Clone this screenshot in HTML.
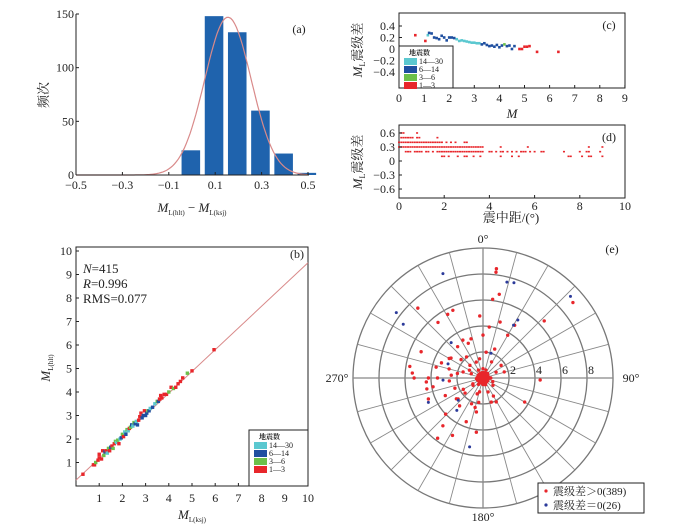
<!DOCTYPE html>
<html><head><meta charset="utf-8"><style>
html,body{margin:0;padding:0;background:#fff;}
svg{display:block;font-family:"Liberation Serif","Noto Serif CJK SC",serif;}
</style></head><body>
<svg id="fig" width="676" height="528" viewBox="0 0 676 528" xmlns="http://www.w3.org/2000/svg">
<g id="pa"></g>
<g id="pc"></g>
<g id="pd"></g>
<g id="pb"></g>
<g id="pe"></g>
</svg>
<script>
// ---- Panel (a) data ----
const histCenters=[-0.005,0.095,0.195,0.295,0.395,0.495];
const histCounts=[23,148,133,60,20,2];
const histXTicks=[-0.5,-0.3,-0.1,0.1,0.3,0.5];
const histYTicks=[0,50,100,150];
const fitParams=[147,0.155,0.1];
// ---- Panel (c) data ----
const cM=[0.65,1.05,1.15,1.2,1.3,1.4,1.5,1.6,1.7,1.8,1.9,2.0,2.1,2.2,2.3,2.4,2.5,2.6,2.7,2.8,2.9,3.0,3.1,3.2,3.3,3.4,3.5,3.6,3.7,3.8,3.9,4.0,4.1,4.2,4.3,4.4,4.5,4.6,4.8,4.9,5.0,5.1,5.2,5.5,6.35];
const cDiff=[0.24,0.14,0.24,0.28,0.27,0.2,0.19,0.17,0.23,0.2,0.15,0.2,0.2,0.19,0.17,0.14,0.15,0.14,0.13,0.12,0.11,0.11,0.1,0.1,0.08,0.1,0.07,0.05,0.06,0.04,0.07,0.03,0.06,0.08,0.05,0.06,0.0,0.05,0.0,0.0,0.04,0.04,0.05,-0.05,-0.05];
const cCat=[0,0,3,2,2,2,2,2,2,2,2,2,2,2,3,3,3,3,3,3,3,3,3,3,2,2,2,2,2,2,2,2,2,1,2,2,2,2,0,0,0,0,0,0,0];
const cXTicks=[0,1,2,3,4,5,6,7,8,9];
const cYTicks=[0.4,0.2,0,-0.2,-0.4];
// ---- Panel (d) data ----
const dLevels=[0.6,0.5,0.4,0.3,0.2,0.1];
const dDist6=[0.1,0.2,0.8];
const dDist5=[0.1,0.2,0.3,0.4,0.5,0.6,0.8,0.9,1.7];
const dDist4=[0.0,0.1,0.2,0.3,0.4,0.5,0.6,0.7,0.8,0.9,1.0,1.1,1.2,1.3,1.4,1.5,1.6,1.7,1.8,1.9,2.1,2.3,2.5,2.9,3.0];
const dDist3=[0.0,0.1,0.2,0.3,0.4,0.5,0.6,0.7,0.8,0.9,1.0,1.1,1.2,1.3,1.4,1.5,1.6,1.7,1.8,1.9,2.0,2.1,2.2,2.3,2.4,2.5,2.6,2.7,2.8,2.9,3.0,3.1,3.2,3.3,3.4,3.5,3.6,3.7,4.5,5.7,8.4,9.0];
const dDist2=[0.3,0.4,0.5,0.7,0.8,0.9,1.0,1.2,1.3,1.5,1.7,1.8,1.9,2.0,2.1,2.2,2.3,2.4,2.5,2.6,2.7,2.8,2.9,3.0,3.1,3.2,3.3,3.4,3.5,3.6,3.7,4.0,4.1,4.3,4.5,4.6,4.8,5.0,5.2,5.4,5.5,5.6,5.8,6.0,6.3,6.4,7.3,8.0,8.3,8.4,8.9];
const dDist1=[1.9,2.0,2.2,2.6,2.9,3.0,3.3,3.6,4.5,5.0,5.3,7.5,7.6,8.1,8.4,8.5,9.0];
const dXTicks=[0,2,4,6,8,10];
const dYTicks=[0.6,0.3,0,-0.3,-0.6];
// ---- Panel (b) data ----
const bX=[0.3,0.75,0.8,0.85,0.95,1.0,1.0,1.1,1.15,1.2,1.25,1.3,1.35,1.4,1.45,1.5,1.55,1.6,1.65,1.7,1.75,1.8,1.85,1.9,1.95,2.0,2.05,2.1,2.15,2.2,2.25,2.3,2.35,2.4,2.45,2.5,2.55,2.6,2.65,2.7,2.75,2.8,2.85,2.9,2.95,3.0,3.05,3.1,3.15,3.2,3.3,3.4,3.5,3.55,3.6,3.65,3.7,3.8,3.9,4.0,4.1,4.2,4.3,4.4,4.5,4.6,4.8,5.0,5.95];
const bY=[0.5,0.9,0.9,1.0,1.1,1.2,1.35,1.15,1.5,1.3,1.45,1.5,1.4,1.6,1.5,1.65,1.7,1.6,1.8,1.9,1.85,1.95,1.8,2.0,2.05,2.2,2.1,2.3,2.2,2.4,2.35,2.45,2.5,2.6,2.55,2.7,2.65,2.75,2.6,2.8,2.95,3.1,2.9,3.0,3.2,3.0,3.1,3.2,3.2,3.3,3.35,3.5,3.6,3.6,3.7,3.85,3.75,3.9,3.9,4.0,4.2,4.15,4.2,4.35,4.45,4.6,4.8,4.9,5.8];
const bCat=[0,0,0,1,0,0,0,0,0,1,2,0,3,1,0,2,0,1,0,1,3,1,0,3,2,1,0,3,2,1,3,0,1,2,3,1,2,3,2,0,0,0,2,2,0,2,2,1,2,3,2,3,1,2,0,0,0,0,0,1,0,1,0,0,0,0,1,0,0];
const bTicks=[1,2,3,4,5,6,7,8,9,10];
const bLine=[0.25,0.925];
const legendLabels=["14—30","6—14","3—6","1—3"];
// ---- Panel (e) data ----
const eRedDist=[8.47,8.2,6.56,6.1,9.03,6.44,4.78,4.5,4.73,3.8,3.95,3.3,7.35,5.7,5.6,5.5,5.17,5.7,5.45,5.3,4.2,4.37,3.7,2.9,3.3,2.9,3.15,3.1,2.0,2.4,1.7,1.7,4.4,3.7,2.1,1.96,2.17,2.66,3.6,4.2,5.0,5.8,4.8,4.0,4.5,4.4,3.9,2.6,2.8,2.45,1.6,1.4,2.06,1.33,1.4,1.1,0.95,1.14,1.1,0.95,0.96,0.72,0.5,0.4,0.24,0.3,0.6,0.5,0.4,0.3,0.2,0.1,0.5,0.6,0.7,0.35,0.45,0.55,0.25,0.65,0.8,0.9,1.2,1.5,1.8,2.3,2.6,3.4,3.0,2.2,1.9,2.7,3.5,3.2,1.3,1.6,2.5,2.0,1.75,2.35];
const eRedAz=[7,7,11,7,50,47,357,17,31,30,7,0,317,336,331,321,293,279,274,270,270,266,283,302,332,337,343,321,7,22,55,74,92,120,151,161,204,191,201,187,208,217,220,226,249,259,260,232,220,275,287,314,322,337,28,66,126,160,194,234,290,0,265,140,30,235,90,180,300,10,200,60,45,215,330,120,250,160,270,20,110,240,300,350,230,250,265,290,300,310,190,285,270,245,200,150,230,280,240,195];
const eBlueDist=[8.6,8.35,7.4,7.6,7.7,9.2,5.2,4.7,3.66,2.9,3.08,4.6,2.56,3.2,5.4,2.0];
const eBlueAz=[339,307,304,14,18,47,31,30,318,292,267,246,228,219,191,18];
const eRingLabels=[2,4,6,8];
const eAngleLabels=["0°","90°","180°","270°"];

const NS="http://www.w3.org/2000/svg";
function mk(parent,tag,attrs){const e=document.createElementNS(NS,tag);for(const k in attrs)e.setAttribute(k,attrs[k]);parent.appendChild(e);return e;}
function txt(parent,x,y,s,size,anchor,extra){const t=mk(parent,'text',Object.assign({x:x,y:y,'font-size':size,'text-anchor':anchor||'middle',fill:'#222'},extra||{}));t.textContent=s;return t;}
const catColor=["#e8262b","#6cc04a","#1f4fa0","#5bc8d0"];

// ===== Panel (a) =====
(function(){
const g=document.getElementById('pa');
const xa=v=>76+(v+0.5)*232, ya=v=>175-v*1.0733;
histCounts.forEach((c,i)=>{const w=0.08*232;
 const r=mk(g,'rect',{x:xa(histCenters[i])-w/2,y:ya(c),width:w,height:ya(0)-ya(c),fill:'#1f63ad'});
 
 });
let d='';for(let k=0;k<=120;k++){const v=-0.5+k/120;const y=fitParams[0]*Math.exp(-Math.pow(v-fitParams[1],2)/(2*fitParams[2]*fitParams[2]));d+=(k?'L':'M')+xa(v).toFixed(1)+','+ya(y).toFixed(1);}
const p=mk(g,'path',{d:d,fill:'none',stroke:'#d98a8a','stroke-width':1.2});


mk(g,'line',{x1:76,y1:14,x2:76,y2:175,stroke:'#222','stroke-width':1});
mk(g,'line',{x1:76,y1:175,x2:309,y2:175,stroke:'#222','stroke-width':1});
histXTicks.forEach(v=>{mk(g,'line',{x1:xa(v),y1:175,x2:xa(v),y2:172,stroke:'#222'});const t=txt(g,xa(v),189,(v<0?'−':'')+Math.abs(v).toFixed(1),12);});
histYTicks.forEach(v=>{mk(g,'line',{x1:76,y1:ya(v),x2:79,y2:ya(v),stroke:'#222'});const t=txt(g,74,ya(v)+4,String(v),12,'end');});
const yl=txt(g,48,95,'频次',13,'middle',{transform:'rotate(-90 48 95)'});
const xl=mk(g,'text',{x:192,y:212,'font-size':13,'text-anchor':'middle',fill:'#222'});
xl.innerHTML='<tspan font-style="italic">M</tspan><tspan font-size="7" dy="3">L(hlt)</tspan><tspan dy="-3"> − </tspan><tspan font-style="italic">M</tspan><tspan font-size="7" dy="3">L(ksj)</tspan>';

const pl=txt(g,299,33,'(a)',12);
})();

function legend(g,x,y,w,h){
 mk(g,'rect',{x:x,y:y,width:w,height:h,fill:'#fff',stroke:'#222','stroke-width':1});
 const t=txt(g,x+10,y+9,'地震数',7,'start',{'font-weight':'bold'});
 
 const cols=[catColor[3],catColor[2],catColor[1],catColor[0]];
 legendLabels.forEach((s,i)=>{const r=mk(g,'rect',{x:x+5,y:y+12+i*8,width:13,height:7,fill:cols[i]});
  
  const l=txt(g,x+20,y+18+i*8,s,8,'start');});
}

// ===== Panel (c) =====
(function(){
const g=document.getElementById('pc');
const xc=v=>399+v*25.1, yc=v=>49-v*57.5;
mk(g,'rect',{x:399,y:13,width:226,height:75,fill:'none',stroke:'#222'});
cM.forEach((m,i)=>{const c=mk(g,'rect',{x:xc(m)-1.3,y:yc(cDiff[i])-1.3,width:2.6,height:2.6,fill:catColor[cCat[i]]});
 
 });
cXTicks.forEach(v=>{mk(g,'line',{x1:xc(v),y1:88,x2:xc(v),y2:85,stroke:'#222'});const t=txt(g,xc(v),102,String(v),12);});
cYTicks.forEach(v=>{mk(g,'line',{x1:399,y1:yc(v),x2:402,y2:yc(v),stroke:'#222'});const t=txt(g,395,yc(v)+4,(v<0?'−':'')+(v===0?'0':Math.abs(v).toFixed(1)),12,'end');});
legend(g,399,46,54,42);
const yl=mk(g,'text',{x:0,y:0,'font-size':13,'text-anchor':'middle',fill:'#222',transform:'translate(362 50) rotate(-90)'});
yl.innerHTML='<tspan font-style="italic">M</tspan><tspan font-size="8" dy="3">L</tspan><tspan dy="-3">震级差</tspan>';

const xl=txt(g,512,118,'M',13,'middle',{'font-style':'italic'});
const pl=txt(g,609,29,'(c)',12);
})();

// ===== Panel (d) =====
(function(){
const g=document.getElementById('pd');
const xd=v=>399+v*22.6, yd=v=>161-v*46.7;
mk(g,'rect',{x:399,y:125,width:226,height:73,fill:'none',stroke:'#222'});
const sets=[dDist6,dDist5,dDist4,dDist3,dDist2,dDist1];
sets.forEach((arr,li)=>arr.forEach(dv=>{const c=mk(g,'rect',{x:xd(dv)-1,y:yd(dLevels[li])-0.8,width:2,height:1.6,fill:'#e8262b'});
 
 }));
dXTicks.forEach(v=>{mk(g,'line',{x1:xd(v),y1:198,x2:xd(v),y2:195,stroke:'#222'});const t=txt(g,xd(v),210,String(v),12);});
dYTicks.forEach(v=>{mk(g,'line',{x1:399,y1:yd(v),x2:402,y2:yd(v),stroke:'#222'});const t=txt(g,395,yd(v)+4,(v<0?'−':'')+(v===0?'0':Math.abs(v).toFixed(1)),12,'end');});
const yl=mk(g,'text',{x:0,y:0,'font-size':13,'text-anchor':'middle',fill:'#222',transform:'translate(362 162) rotate(-90)'});
yl.innerHTML='<tspan font-style="italic">M</tspan><tspan font-size="8" dy="3">L</tspan><tspan dy="-3">震级差</tspan>';

const xl=txt(g,511,222,'震中距/(°)',13);
const pl=txt(g,609,141,'(d)',12);
})();

// ===== Panel (b) =====
(function(){
const g=document.getElementById('pb');
const xb=v=>76+v*23.2, yb=v=>486-v*23.5;
mk(g,'rect',{x:76,y:247,width:232,height:239,fill:'none',stroke:'#222'});
const ln=mk(g,'line',{x1:xb(0),y1:yb(bLine[0]),x2:xb(10),y2:yb(bLine[0]+bLine[1]*10),stroke:'#d98a8a','stroke-width':1});


bX.forEach((v,i)=>{const c=mk(g,'rect',{x:xb(v)-1.7,y:yb(bY[i])-1.7,width:3.4,height:3.4,fill:catColor[bCat[i]]});
 
 });
bTicks.forEach(v=>{mk(g,'line',{x1:xb(v),y1:486,x2:xb(v),y2:483,stroke:'#222'});const t=txt(g,xb(v),502,String(v),12);
 mk(g,'line',{x1:76,y1:yb(v),x2:79,y2:yb(v),stroke:'#222'});const u=txt(g,72,yb(v)+4,String(v),12,'end');});
const s1=mk(g,'text',{x:83,y:273,'font-size':13,fill:'#222'});s1.innerHTML='<tspan font-style="italic">N</tspan>=415';
const s2=mk(g,'text',{x:83,y:288,'font-size':13,fill:'#222'});s2.innerHTML='<tspan font-style="italic">R</tspan>=0.996';
const s3=txt(g,83,303,'RMS=0.077',13,'start');
legend(g,249,430,59,56);
const yl=mk(g,'text',{x:0,y:0,'font-size':13,'text-anchor':'middle',fill:'#222',transform:'translate(50 368) rotate(-90)'});
yl.innerHTML='<tspan font-style="italic">M</tspan><tspan font-size="7" dy="3">L(hlt)</tspan>';

const xl=mk(g,'text',{x:192,y:519,'font-size':13,'text-anchor':'middle',fill:'#222'});
xl.innerHTML='<tspan font-style="italic">M</tspan><tspan font-size="7" dy="3">L(ksj)</tspan>';

const pl=txt(g,297,258,'(b)',12);
})();

// ===== Panel (e) =====
(function(){
const g=document.getElementById('pe');
const cx=483,cy=378,rs=13;
const pos=(r,a)=>[cx+r*rs*Math.sin(a*Math.PI/180),cy-r*rs*Math.cos(a*Math.PI/180)];
[2,4,6,8,10].forEach(r=>{const c=mk(g,'circle',{cx:cx,cy:cy,r:r*rs,fill:'none',stroke:'#777','stroke-width':1.3});});
for(let a=0;a<360;a+=15){const p=pos(10,a);mk(g,'line',{x1:cx,y1:cy,x2:p[0],y2:p[1],stroke:'#888','stroke-width':a%90===0?1.3:0.9});}
eRingLabels.forEach(v=>{const t=txt(g,cx+v*rs+4,cy-4,String(v),12,'middle');});
const al=[[cx,243],[cx+148,382],[cx,521],[cx-146,382]];
eAngleLabels.forEach((s,i)=>{const t=txt(g,al[i][0],al[i][1],s,12);});
eRedDist.forEach((r,i)=>{const p=pos(r,eRedAz[i]);const c=mk(g,'circle',{cx:p[0],cy:p[1],r:1.7,fill:'#e8262b'});
 
 });
mk(g,'circle',{cx:cx,cy:cy,r:7,fill:'#e8262b'});
eBlueDist.forEach((r,i)=>{const p=pos(r,eBlueAz[i]);const c=mk(g,'circle',{cx:p[0],cy:p[1],r:1.5,fill:'#2b3a9a'});
 
 });
mk(g,'rect',{x:538,y:483,width:106,height:30,fill:'#fff',stroke:'#222','stroke-width':1});
mk(g,'circle',{cx:546,cy:491,r:1.6,fill:'#e8262b'});
mk(g,'circle',{cx:546,cy:505,r:1.6,fill:'#2b3a9a'});
const l1=txt(g,553,495,'震级差＞0(389)',11,'start');
const l2=txt(g,553,509,'震级差＝0(26)',11,'start');
const pl=txt(g,612,253,'(e)',12);
})();
</script>
</body></html>
